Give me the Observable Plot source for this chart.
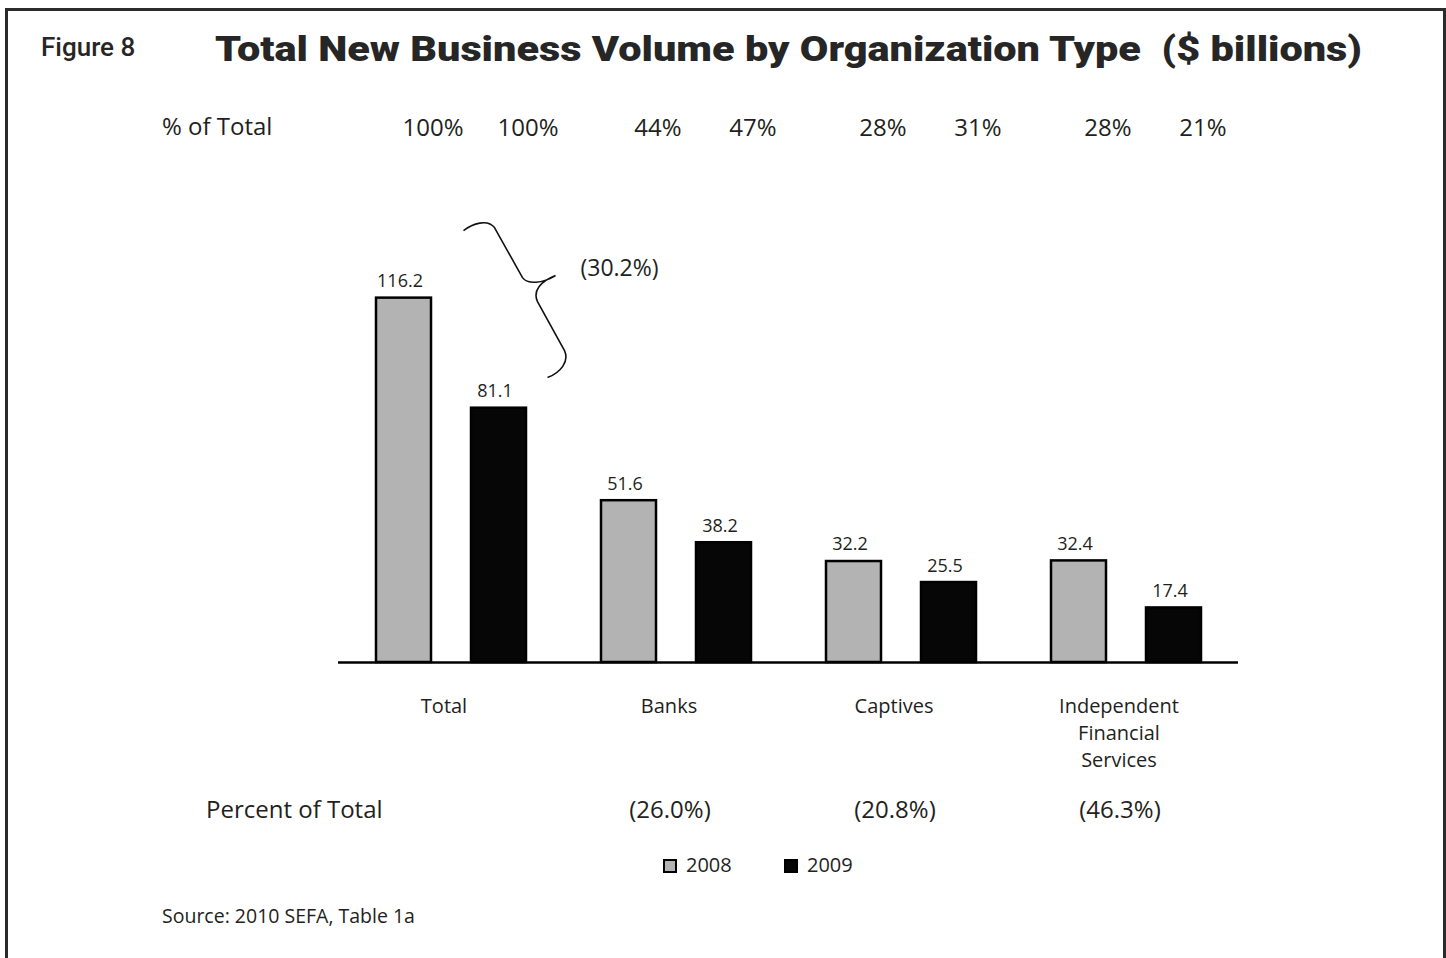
<!DOCTYPE html>
<html>
<head>
<meta charset="utf-8">
<script src="https://cdn.jsdelivr.net/npm/d3@7"></script>
<script src="https://cdn.jsdelivr.net/npm/@observablehq/plot@0.6"></script>
<style>
html, body { margin: 0; padding: 0; background: #fff; }
#page { position: relative; width: 1446px; height: 958px; overflow: hidden; font-family: "Open Sans", sans-serif; color: #231f20; }
#frame { position: absolute; left: 5px; top: 8px; width: 1441px; height: 1000px; border: 3px solid #2b2b2b; box-sizing: border-box; }
.abs { position: absolute; white-space: nowrap; line-height: 1; }
#chart { position: absolute; left: 0; top: 0; }
#figno { left: 41px; top: 34px; font-family: Roboto, sans-serif; font-weight: 500; font-size: 26px; color: #262626; }
#title { left: 215px; top: 32px; font-family: Roboto, sans-serif; font-weight: 900; font-size: 35px; color: #262626; transform-origin: 0 0; }
#shareLabel { left: 162px; top: 114px; font-size: 24px; }
#declineLabel { left: 206px; top: 797px; font-size: 24px; }
#source { left: 162px; top: 906px; font-size: 19.5px; }
.sw { position: absolute; width: 14px; height: 14px; box-sizing: border-box; border: 2px solid #000; top: 859px; }
.swl { position: absolute; top: 855px; font-size: 20px; line-height: 1; }
</style>
</head>
<body>
<div id="page">
  <div id="frame"></div>
  <div id="chart"></div>
  <div class="abs" id="figno">Figure 8</div>
  <div class="abs" id="title">Total New Business Volume by Organization Type&nbsp;&nbsp;($ billions)</div>
  <div class="abs" id="shareLabel">% of Total</div>
  <div class="abs" id="declineLabel">Percent of Total</div>
  <div id="legend"></div>
  <div class="abs" id="source">Source: 2010 SEFA, Table 1a</div>
</div>
<script>
// ---- data ----
const categories = ["Total", "Banks", "Captives", "Independent Financial Services"];
const categoryLabels = ["Total", "Banks", "Captives", "Independent\nFinancial\nServices"];
const years = [2008, 2009];
const values2008 = [116.2, 51.6, 32.2, 32.4];
const values2009 = [81.1, 38.2, 25.5, 17.4];
const shareOfTotal2008 = ["100%", "44%", "28%", "28%"];
const shareOfTotal2009 = ["100%", "47%", "31%", "21%"];
const declineLabels = ["(30.2%)", "(26.0%)", "(20.8%)", "(46.3%)"];
const yearColors = ["#b3b3b3", "#060606"];

// ---- tables built from the arrays ----
const rows = categories.flatMap((c, i) => [
  {cat: c, year: years[0], value: values2008[i], share: shareOfTotal2008[i]},
  {cat: c, year: years[1], value: values2009[i], share: shareOfTotal2009[i]}
]);
const declineRows = categories.slice(1).map((c, i) => ({cat: c, label: declineLabels[i + 1]}));
const braceRows = [{cat: categories[0], year: years[1], value: values2008[0], label: declineLabels[0]}];

const SVGNS = "http://www.w3.org/2000/svg";

const braceMark = Plot.text(braceRows, {
  fx: "cat", x: "year", y: "value", text: "label",
  fontSize: 23, dx: 120.5, dy: -29.4, lineAnchor: "middle",
  render(index, scales, values, dimensions, context, next) {
    const g = next(index, scales, values, dimensions, context);
    const doc = context.document;
    const wrap = doc.createElementNS(SVGNS, "g");
    if (g) wrap.appendChild(g);
    if (!index.length) return wrap;
    const X = scales.x, Y = scales.y;
    const bw = typeof X.bandwidth === "function" ? X.bandwidth() : (X.bandwidth || 0);
    const ax = X(years[1]) + bw / 2, ay = Y(values2008[0]);
    const p = (dx, dy) => `${(ax + dx).toFixed(1)},${(ay + dy).toFixed(1)}`;
    const d = `M${p(-35,-67)} C${p(-26,-74)} ${p(-11,-79)} ${p(-4,-70)} L${p(24,-20)} ` +
              `C${p(29,-13)} ${p(44,-14)} ${p(57,-22)} C${p(42,-16)} ${p(34,-7)} ${p(39,4)} ` +
              `L${p(66,53)} C${p(71,64)} ${p(62,75)} ${p(49,80)}`;
    const path = doc.createElementNS(SVGNS, "path");
    path.setAttribute("d", d);
    path.setAttribute("fill", "none");
    path.setAttribute("stroke", "#111");
    path.setAttribute("stroke-width", "1.6");
    wrap.appendChild(path);
    return wrap;
  }
});

const chart = Plot.plot({
  width: 1446,
  height: 830,
  marginLeft: 337,
  marginRight: 208,
  marginTop: 223,
  marginBottom: 168,
  style: {fontFamily: "Open Sans, sans-serif", fontSize: "18px", color: "#231f20", background: "transparent", overflow: "visible"},
  fx: {domain: categories, padding: 0, label: null},
  x: {domain: years, paddingInner: 0.424, paddingOuter: 0.391, axis: null},
  y: {domain: [0, 140], axis: null},
  color: {type: "ordinal", domain: years, range: yearColors},
  marks: [
    Plot.barY(rows, {fx: "cat", x: "year", y: "value", fill: "year", stroke: "#000", strokeWidth: 2.5}),
    Plot.ruleY([0], {stroke: "#000", strokeWidth: 2.5}),
    Plot.text(rows, {fx: "cat", x: "year", y: "value", text: d => d.value.toFixed(1), fontSize: 18, dx: -4, dy: -16.8, lineAnchor: "middle"}),
    Plot.text(rows, {fx: "cat", x: "year", text: "share", frameAnchor: "top", fontSize: 24, dx: 29, dy: -95.5, lineAnchor: "middle"}),
    Plot.text(declineRows, {fx: "cat", text: "label", frameAnchor: "bottom", fontSize: 24, dx: -6, dy: 148.3, lineAnchor: "middle"}),
    Plot.axisFx({anchor: "bottom", tickSize: 0, tickPadding: 32, fontSize: 20, lineHeight: 1.33, dx: -7, label: null,
      tickFormat: c => categoryLabels[categories.indexOf(c)]}),
    braceMark
  ]
});
document.getElementById("chart").appendChild(chart);

// ---- legend (from years / colours) ----
const legend = document.getElementById("legend");
const swatchX = [663, 784];
years.forEach((yr, i) => {
  const s = document.createElement("div");
  s.className = "sw";
  s.style.left = swatchX[i] + "px";
  s.style.background = yearColors[i];
  legend.appendChild(s);
  const t = document.createElement("div");
  t.className = "swl";
  t.style.left = (swatchX[i] + 23) + "px";
  t.textContent = String(yr);
  legend.appendChild(t);
});

// stretch the heavy title to the reference's width (1147px)
const title = document.getElementById("title");
const w = title.getBoundingClientRect().width;
if (w > 0) title.style.transform = `scaleX(${(1147 / w).toFixed(4)})`;
</script>
</body>
</html>
